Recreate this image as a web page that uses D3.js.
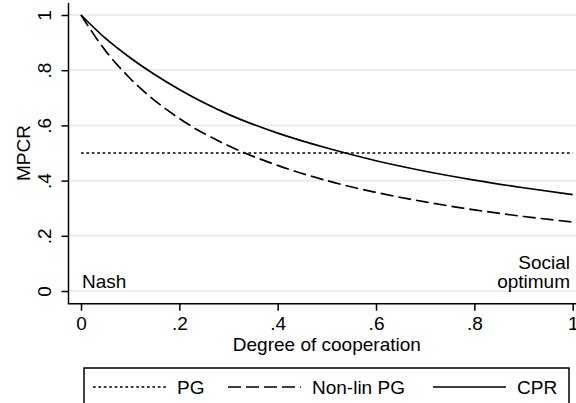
<!DOCTYPE html>
<html>
<head>
<meta charset="utf-8">
<script src="https://cdn.jsdelivr.net/npm/d3@7"></script>
<style>
  body { margin: 0; background: #fff; }
  svg text { font-family: "Liberation Sans", Arial, Helvetica, sans-serif; font-size: 19px; fill: #000; }
</style>
</head>
<body>
<svg id="chart" width="576" height="403"></svg>
<script>
// values
const coop = [0, 0.05, 0.1, 0.2, 0.3, 0.4, 0.5, 0.6, 0.7, 0.8, 0.9, 1];
const cpr = [1, 0.915, 0.845, 0.73, 0.64, 0.572, 0.518, 0.472, 0.434, 0.402, 0.374, 0.349];
const nonlinPG = [1, 0.87, 0.77, 0.625, 0.526, 0.455, 0.4, 0.357, 0.323, 0.294, 0.27, 0.25];
const pgX = [0, 1];
const pg = [0.5, 0.5];
const xTicks = [0, 0.2, 0.4, 0.6, 0.8, 1];
const yTicks = [0, 0.2, 0.4, 0.6, 0.8, 1];
const legendItems = ["PG", "Non-lin PG", "CPR"];

const fmt = d => d === 0 ? "0" : d === 1 ? "1" : String(d).replace(/^0/, "");

const svg = d3.select("#chart"),
    width = +svg.attr("width"),
    height = +svg.attr("height");

const x = d3.scaleLinear().domain([0, 1]).range([81, 572.7]);
const y = d3.scaleLinear().domain([0, 1]).range([291, 15]);

const axisX = 68.5, axisY = 303.7;

// gridlines
svg.append("g")
    .selectAll("line")
    .data(yTicks)
    .enter().append("line")
    .attr("x1", axisX).attr("x2", width)
    .attr("y1", d => y(d)).attr("y2", d => y(d))
    .attr("stroke", "#e8e8e8")
    .attr("stroke-width", 1.5);

// y axis
const yAxis = svg.append("g")
    .attr("transform", `translate(${axisX},0)`)
    .call(d3.axisLeft(y).tickValues(yTicks).tickFormat(fmt).tickSize(7).tickPadding(0));
yAxis.select(".domain").attr("d", `M0,3V${axisY}`).attr("stroke-width", 1.5);
yAxis.selectAll(".tick line").attr("stroke-width", 1.5);
yAxis.selectAll(".tick text")
    .attr("x", null).attr("dy", null)
    .attr("text-anchor", "middle")
    .attr("transform", "translate(-18,0) rotate(-90)")
    .style("font-size", "19px");

// x axis
const xAxis = svg.append("g")
    .attr("transform", `translate(0,${axisY})`)
    .call(d3.axisBottom(x).tickValues(xTicks).tickFormat(fmt).tickSize(7).tickPadding(0));
xAxis.select(".domain").attr("d", `M${axisX - 0.75},0H${width}`).attr("stroke-width", 1.5);
xAxis.selectAll(".tick line").attr("stroke-width", 1.5);
xAxis.selectAll(".tick text")
    .attr("y", 26).attr("dy", null)
    .style("font-size", "19px");

// axis titles
svg.append("text")
    .attr("transform", `translate(30,${y(0.5)}) rotate(-90)`)
    .attr("text-anchor", "middle")
    .text("MPCR");
svg.append("text")
    .attr("x", (x(0) + x(1)) / 2).attr("y", 351)
    .attr("text-anchor", "middle")
    .text("Degree of cooperation");

// lines
const line = d3.line()
    .x(d => x(d[0]))
    .y(d => y(d[1]))
    .curve(d3.curveMonotoneX);

const series = [
    { name: "PG", pts: d3.zip(pgX, pg), dash: "2.7,2.7", width: 1.5 },
    { name: "Non-lin PG", pts: d3.zip(coop, nonlinPG), dash: "13,5", width: 1.7 },
    { name: "CPR", pts: d3.zip(coop, cpr), dash: null, width: 1.7 }
];

svg.append("g")
    .selectAll("path")
    .data(series)
    .enter().append("path")
    .attr("d", d => line(d.pts))
    .attr("fill", "none")
    .attr("stroke", "#000")
    .attr("stroke-width", d => d.width)
    .attr("stroke-dasharray", d => d.dash);

// annotations
svg.append("text").attr("x", 82).attr("y", 288).text("Nash");
svg.append("text").attr("x", 570).attr("y", 269).attr("text-anchor", "end").text("Social");
svg.append("text").attr("x", 570).attr("y", 288).attr("text-anchor", "end").text("optimum");

// legend
svg.append("rect")
    .attr("x", 84).attr("y", 368)
    .attr("width", 485).attr("height", 60)
    .attr("fill", "none")
    .attr("stroke", "#000")
    .attr("stroke-width", 1.5);

const legendX = [93, 228, 433];
const leg = svg.append("g")
    .selectAll("g")
    .data(series)
    .enter().append("g")
    .attr("transform", (d, i) => `translate(${legendX[i]},387)`);
leg.append("line")
    .attr("x1", 0).attr("x2", 73)
    .attr("stroke", "#000")
    .attr("stroke-width", d => d.width)
    .attr("stroke-dasharray", d => d.dash);
leg.append("text")
    .attr("x", 84).attr("y", 6.5)
    .text((d, i) => legendItems[i]);
</script>
</body>
</html>
